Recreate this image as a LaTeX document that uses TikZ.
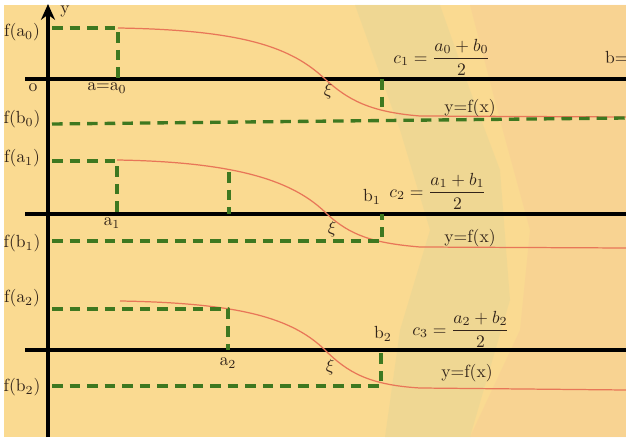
\documentclass[tikz,border=0pt]{standalone}
\usepackage{amsmath}
\usetikzlibrary{arrows.meta}
\definecolor{bgbase}{RGB}{250,218,145}
\definecolor{bgsage}{RGB}{220,212,152}
\definecolor{bgpeach}{RGB}{247,198,150}
\definecolor{dashgreen}{RGB}{62,120,32}
\definecolor{curvered}{RGB}{232,118,88}
\definecolor{inkbrown}{RGB}{50,36,26}
\tikzset{axisline/.style={line width=2.2pt,black},
  guide/.style={dashgreen,line width=1.9pt,dash pattern=on 6pt off 4pt},
  fcurve/.style={curvered,line width=0.7pt},
  lbl/.style={inkbrown,inner sep=1pt}}

\begin{document}
\begin{tikzpicture}[x=0.02cm,y=-0.02cm,>=Stealth,line join=round,font=\normalsize]
% --- 0: paper, soft background patches
\fill[white] (0,0) rectangle (626,439);
\fill[bgbase] (4,5) rectangle (626,437);
\fill[bgsage,opacity=0.35] (355,5) -- (440,5) -- (470,90) -- (500,170) -- (510,300) -- (470,437) -- (385,437) -- (400,330) -- (430,230) -- (400,130) -- cycle;
\fill[bgpeach,opacity=0.35] (470,5) -- (626,5) -- (626,437) -- (470,437) -- (520,330) -- (530,230) -- (500,120) -- cycle;
\useasboundingbox (0,0) rectangle (626,439);
% --- y axis
\coordinate (ybot) at (48,437); \coordinate (ytop) at (48,4);
\draw[axisline,-{Stealth[length=9pt,width=8pt]}] (ybot) -- (ytop);
\node[lbl] (ylab) at (65,12) {y};
% --- 1: [a0,b0]
\begin{scope}
\coordinate (xl1) at (25,79); \coordinate (xr1) at (626,79);
\coordinate (pa0) at (118,28); \coordinate (a0) at (118,79);
\coordinate (cb0) at (382,79); \coordinate (qb0) at (382,110);
\draw[axisline] (xl1) -- (xr1);
\draw[fcurve] (pa0) .. controls (245,30) and (292,48) .. (325,79) .. controls (348,100) and (370,112) .. (420,116) -- (626,117);
\draw[guide] (52,28) -- (pa0) -- (a0);
\draw[guide] (cb0) -- (qb0);
\draw[guide] (52,124) -- (626,118);
\node[lbl] (fa0) at (22,32) {$\mathrm{f(a_0)}$};
\node[lbl] (orig) at (33,88) {o};
\node[lbl] (aeq) at (107,88) {$\mathrm{a{=}a_0}$};
\node[lbl] (xi1) at (328,91) {$\xi$};
\node[lbl] (c1) at (442,57) {$c_1 = \dfrac{a_0+b_0}{2}$};
\node[lbl,anchor=west] (beq) at (603,57) {$\mathrm{b{=}}$};
\node[lbl] (yf1) at (470,108) {y=f(x)};
\node[lbl] (fb0) at (22,119) {$\mathrm{f(b_0)}$};
\end{scope}
% --- 2: [a1,b1]
\begin{scope}
\coordinate (xl2) at (25,214); \coordinate (xr2) at (626,214);
\coordinate (pa1) at (117,161); \coordinate (a1) at (117,214);
\coordinate (pc2) at (229,172); \coordinate (c2x) at (229,214);
\coordinate (pb1) at (382,241); \coordinate (b1x) at (382,214);
\draw[axisline] (xl2) -- (xr2);
\draw[fcurve] (117,160) .. controls (240,162) and (295,182) .. (327,214) .. controls (350,235) and (372,243) .. (420,247) -- (626,248);
\draw[guide] (52,161) -- (pa1) -- (a1);
\draw[guide] (pc2) -- (c2x);
\draw[guide] (52,241) -- (pb1) -- (b1x);
\node[lbl] (fa1) at (22,158) {$\mathrm{f(a_1)}$};
\node[lbl] (a1lab) at (112,223) {$\mathrm{a_1}$};
\node[lbl] (xi2) at (332,229) {$\xi$};
\node[lbl] (b1lab) at (372,197) {$\mathrm{b_1}$};
\node[lbl] (c2) at (438,191) {$c_2 = \dfrac{a_1+b_1}{2}$};
\node[lbl] (yf2) at (470,238) {y=f(x)};
\node[lbl] (fb1) at (22,243) {$\mathrm{f(b_1)}$};
\end{scope}
% --- 3: [a2,b2]
\begin{scope}
\coordinate (xl3) at (25,350); \coordinate (xr3) at (626,350);
\coordinate (pa2) at (228,309); \coordinate (a2) at (228,350);
\coordinate (pb2) at (381,386); \coordinate (b2x) at (381,350);
\draw[axisline] (xl3) -- (xr3);
\draw[fcurve] (120,301) .. controls (240,303) and (292,318) .. (325,350) .. controls (348,373) and (370,385) .. (420,388) -- (626,390);
\draw[guide] (52,309) -- (pa2) -- (a2);
\draw[guide] (52,386) -- (pb2) -- (b2x);
\node[lbl] (fa2) at (22,298) {$\mathrm{f(a_2)}$};
\node[lbl] (a2lab) at (228,363) {$\mathrm{a_2}$};
\node[lbl] (xi3) at (330,367) {$\xi$};
\node[lbl] (b2lab) at (383,334) {$\mathrm{b_2}$};
\node[lbl] (c3) at (461,329) {$c_3 = \dfrac{a_2+b_2}{2}$};
\node[lbl] (yf3) at (467,373) {y=f(x)};
\node[lbl] (fb2) at (22,387) {$\mathrm{f(b_2)}$};
\end{scope}
\end{tikzpicture}
\end{document}
